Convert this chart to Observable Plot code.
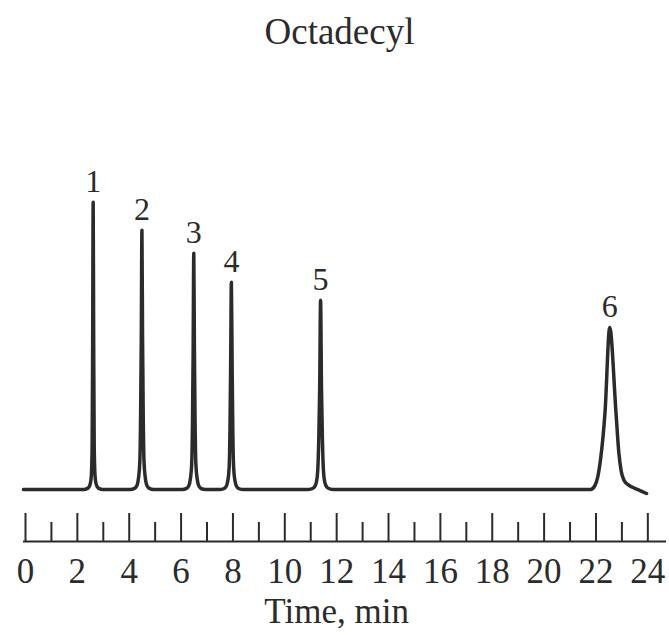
<!DOCTYPE html>
<html>
<head>
<meta charset="utf-8">
<script src="https://cdn.jsdelivr.net/npm/d3@7"></script>
<script src="https://cdn.jsdelivr.net/npm/@observablehq/plot@0.6"></script>
<style>
  html, body { margin: 0; padding: 0; background: #fff; }
  #wrap { position: relative; width: 669px; height: 635px; overflow: hidden; background: #fff; }
  #title { position: absolute; top: 13px; left: 5px; width: 669px; text-align: center;
           font: 37px/1 "Liberation Serif", "Times New Roman", serif; color: #2b2b2b; }
  #chart { position: absolute; top: 70px; left: 0; }
</style>
</head>
<body>
<div id="wrap">
  <div id="title">Octadecyl</div>
  <div id="chart"></div>
</div>
<script>
// ---- data ----
const titleText = "Octadecyl";
const xLabel = "Time, min";

// labelled peaks: retention time (min), apex height (arbitrary units)
const peakLabels  = ["1", "2", "3", "4", "5", "6"];
const peakTimes   = [2.61, 4.49, 6.49, 7.94, 11.38, 22.53];
const peakHeights = [100, 90.2, 82.2, 72.1, 65.9, 56.4];

// detector trace points
const traceTime = [
  -0.08,
  2.26, 2.42, 2.50, 2.54, 2.57, 2.59, 2.61, 2.63, 2.65, 2.68, 2.72, 2.80, 2.96,
  4.04, 4.19, 4.29, 4.36, 4.41, 4.44, 4.465, 4.49, 4.515, 4.54, 4.57, 4.62, 4.69, 4.79, 4.94,
  6.04, 6.19, 6.29, 6.36, 6.41, 6.44, 6.465, 6.49, 6.515, 6.54, 6.57, 6.62, 6.69, 6.79, 6.94,
  7.48, 7.63, 7.73, 7.805, 7.855, 7.885, 7.91, 7.94, 7.97, 7.995, 8.025, 8.075, 8.15, 8.25, 8.40,
  10.88, 11.03, 11.14, 11.22, 11.27, 11.31, 11.345, 11.38, 11.415, 11.45, 11.49, 11.54, 11.62, 11.73, 11.88,
  21.79, 21.95, 22.06, 22.17, 22.35, 22.53, 22.77, 22.88, 22.97, 23.08, 23.25, 23.45, 23.70, 23.95
];
const traceSignal = [
  0,
  0, 0.5, 2, 5, 15, 50, 100, 50, 15, 5, 2, 0.5, 0,
  0, 0.3, 1.2, 4.1, 9.9, 26, 52, 90.2, 52, 26, 9.9, 4.1, 1.2, 0.3, 0,
  0, 0.25, 1.1, 3.7, 9.0, 23.5, 47.5, 82.2, 47.5, 23.5, 9.0, 3.7, 1.1, 0.25, 0,
  0, 0.2, 0.9, 3.2, 7.9, 20.5, 41.5, 72.1, 41.5, 20.5, 7.9, 3.2, 0.9, 0.2, 0,
  0, 0.2, 0.8, 2.6, 6.6, 17.5, 35.0, 65.9, 35.0, 17.5, 6.6, 2.6, 0.8, 0.2, 0,
  0, 1.2, 4, 10, 27, 56.4, 27, 13, 6.5, 3.2, 1.6, 0.6, -0.4, -1.4
];

// axis ticks
const majorTicks = [0, 2, 4, 6, 8, 10, 12, 14, 16, 18, 20, 22, 24];
const minorTicks = [1, 3, 5, 7, 9, 11, 13, 15, 17, 19, 21, 23];

// ---- build ----
document.getElementById("title").textContent = titleText;
const trace = traceTime.map((t, i) => ({t, s: traceSignal[i]}));
const peaks = peakTimes.map((t, i) => ({t, h: peakHeights[i], label: peakLabels[i]}));

const W = 669, H = 565, mt = 103, mb = 94, ml = 23, mr = 3;
const frameH = H - mt - mb;
const yMin = -18.12, yMax = 110;
const ink = "#2b2b2b";

const chart = Plot.plot({
  width: W, height: H,
  marginTop: mt, marginBottom: mb, marginLeft: ml, marginRight: mr,
  x: {domain: [-0.077, 24.72], axis: null},
  y: {domain: [yMin, yMax], axis: null},
  style: {fontFamily: "'Liberation Serif', 'Times New Roman', serif", fontSize: "34px", color: ink, background: "#fff", overflow: "visible"},
  marks: [
    Plot.ruleY([yMin], {stroke: ink, strokeWidth: 2}),
    Plot.ruleX(majorTicks, {stroke: ink, strokeWidth: 2, insetTop: frameH - 28}),
    Plot.ruleX(minorTicks, {stroke: ink, strokeWidth: 2, insetTop: frameH - 19}),
    Plot.axisX(majorTicks, {tickSize: 0, tickPadding: 17, fontSize: 35, label: null, fill: ink}),
    Plot.text([xLabel], {x: 12, frameAnchor: "bottom", lineAnchor: "bottom", dy: 81, fontSize: 35, fill: ink}),
    Plot.line(trace, {x: "t", y: "s", curve: "monotone-x", stroke: ink, strokeWidth: 3.5, strokeLinejoin: "round"}),
    Plot.text(peaks, {x: "t", y: "h", text: "label", lineAnchor: "bottom", dy: -10, fontSize: 32, fill: ink})
  ]
});
document.getElementById("chart").appendChild(chart);
</script>
</body>
</html>
